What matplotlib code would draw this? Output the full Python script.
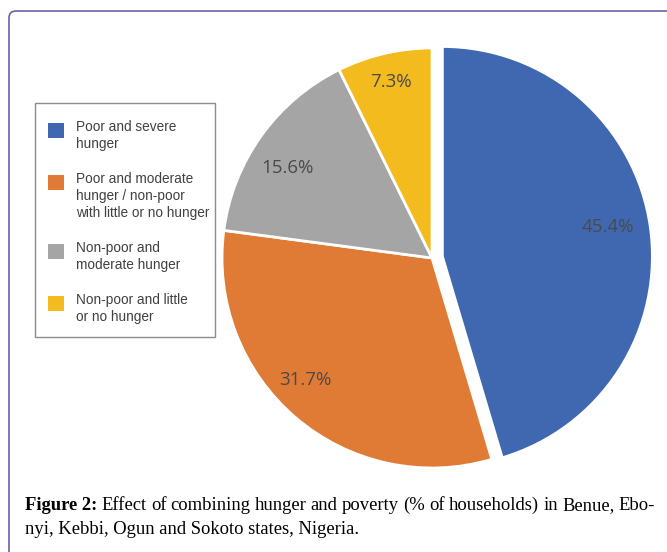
import numpy as np
import matplotlib.pyplot as plt
from matplotlib.patches import FancyBboxPatch, Rectangle
from matplotlib.transforms import IdentityTransform

# data
labels = ['Poor and severe\nhunger',
          'Poor and moderate\nhunger / non-poor\nwith little or no hunger',
          'Non-poor and\nmoderate hunger',
          'Non-poor and little\nor no hunger']
shares = [45.4, 31.7, 15.6, 7.3]
colors = ['#3f68b0', '#e07b36', '#a5a5a5', '#f3bb1d']
explode = [0.05, 0, 0, 0]

caption_head = 'Figure 2:'
caption_1 = 'Effect of combining hunger and poverty (% of households) in Benue, Ebo-'
caption_2 = 'nyi, Kebbi, Ogun and Sokoto states, Nigeria.'

W, H = 667, 552
fig = plt.figure(figsize=(W / 100, H / 100), dpi=100)
pix = IdentityTransform()

# outer rounded frame (only top and left edge inside the picture)
fig.add_artist(FancyBboxPatch((9, -30), 720, H - 11 + 30,
                              boxstyle='round,pad=0,rounding_size=7',
                              transform=pix, fill=False,
                              edgecolor='#6a62a8', lw=1.2))

# pie: radius 1 -> 210 px, centre at (432, 258) from top-left
R = 210
half = 1.15 * R
ax = fig.add_axes([(432 - half) / W, (H - 258 - half) / H, 2 * half / W, 2 * half / H])
wedges, texts, autotexts = ax.pie(
    shares, colors=colors, explode=explode, startangle=90, counterclock=False,
    autopct='%.1f%%',
    wedgeprops=dict(edgecolor='white', linewidth=2),
    textprops=dict(color='#4a4a4a', fontsize=13.5, family='Open Sans'))
# move labels a bit like Excel's "best fit": radius and angle shift per slice
label_r = [0.8, 0.835, 0.81, 0.86]
label_dang = [1.7, -5.5, 3.6, 0]
for w, t, k, da in zip(wedges, autotexts, label_r, label_dang):
    ang = np.deg2rad((w.theta1 + w.theta2) / 2 + da)
    cx, cy = w.center
    t.set_position((cx + k * np.cos(ang), cy + k * np.sin(ang)))
ax.set_xlim(-1.15, 1.15)
ax.set_ylim(-1.15, 1.15)
ax.set_aspect('equal')
ax.axis('off')

# legend box drawn by hand (squares sit on the first text line)
fig.add_artist(Rectangle((35, H - 337), 180, 234, transform=pix,
                         fill=False, edgecolor='#8c8c8c', lw=1))
y = 128
for lab, c in zip(labels, colors):
    fig.add_artist(Rectangle((48, H - y - 10), 16, 15, transform=pix,
                             facecolor=c, edgecolor='none'))
    fig.text(76 / W, 1 - (y - 8) / H, lab, va='top', ha='left', fontsize=9.8,
             family='Liberation Sans', color='#404040', linespacing=1.25)
    y += 17 * (lab.count('\n') + 1) + 18

# caption, first line justified
cap_kw = dict(fontsize=13.4, family='Liberation Serif', color='black', va='baseline')
r = fig.canvas.get_renderer()
head = fig.text(25 / W, 1 - 510 / H, caption_head, weight='bold', **cap_kw)
x = 25 + head.get_window_extent(r).width
words = caption_1.split()
arts = [fig.text(0, 1 - 510 / H, w, **cap_kw) for w in words]
widths = [a.get_window_extent(r).width for a in arts]
gap = max((655 - x - sum(widths)) / len(words), 2.5)
for a, w in zip(arts, widths):
    x += gap
    a.set_x(x / W)
    x += w
fig.text(25 / W, 1 - 534 / H, caption_2, **cap_kw)

fig.savefig('out.png', dpi=100)
